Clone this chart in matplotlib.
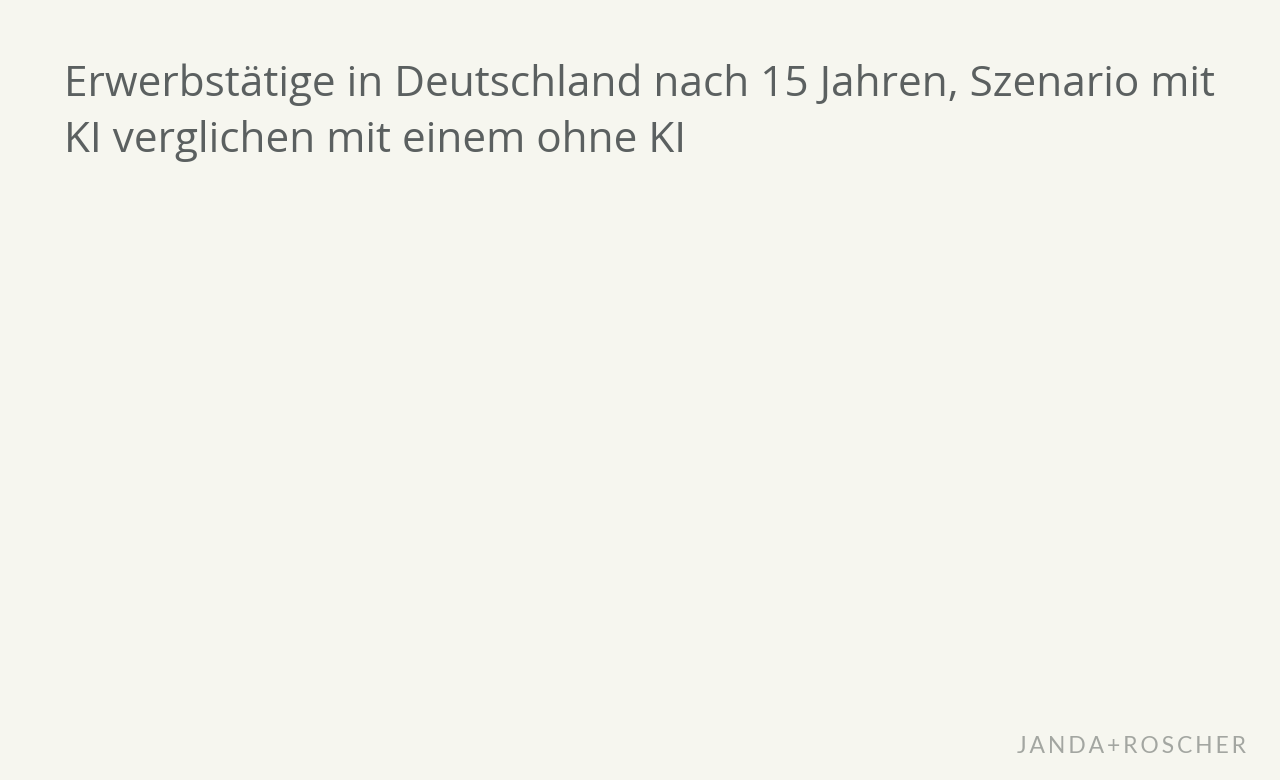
import matplotlib
matplotlib.use("Agg")
import matplotlib.pyplot as plt

# Chart content (the reference chart area is empty: no series are drawn)
title_lines = ["Erwerbstätige in Deutschland nach 15 Jahren, Szenario mit",
               "KI verglichen mit einem ohne KI"]
logo_text = "JANDA+ROSCHER"
categories = []
values = []

BG = "#f6f6ef"
TITLE_COLOR = "#5b6060"
LOGO_COLOR = "#a3a6a1"

fig = plt.figure(figsize=(12.8, 7.8), dpi=100, facecolor=BG)

ax = fig.add_axes([0.05, 0.12, 0.9, 0.62])
ax.set_facecolor(BG)
if categories:
    ax.bar(categories, values)
ax.axis("off")

for i, line in enumerate(title_lines):
    fig.text(64 / 1280, 1 - (96 + 56.5 * i) / 780, line, fontsize=30.4,
             family="Open Sans", color=TITLE_COLOR, ha="left", va="baseline")

# letter-spaced logo
fig.text(1246 / 1280, 1 - 753 / 780, "\u2009".join(logo_text), fontsize=16.5,
         family=["Lato", "DejaVu Sans"], color=LOGO_COLOR, ha="right", va="baseline")

fig.savefig("out.png", dpi=100, facecolor=BG)
